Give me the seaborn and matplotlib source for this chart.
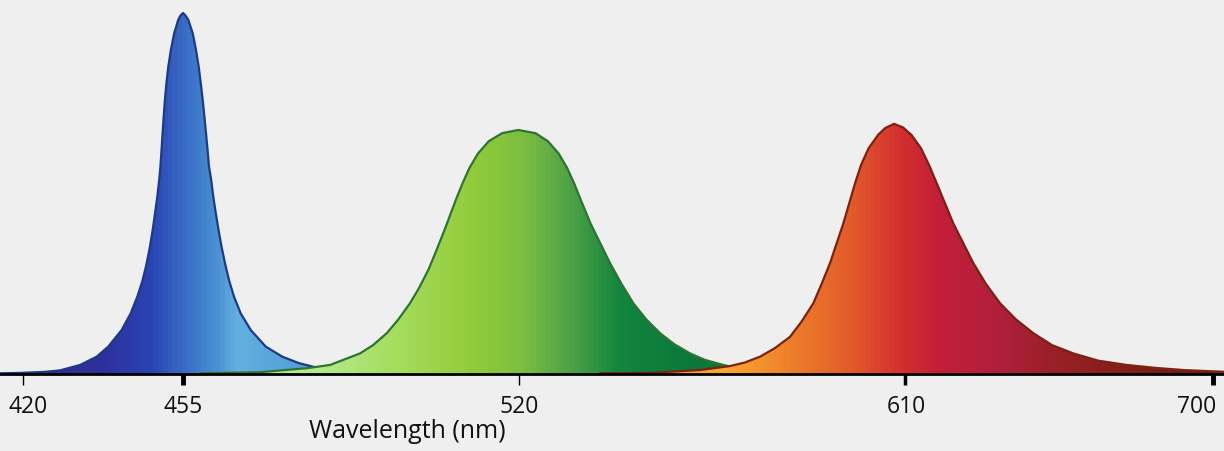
import numpy as np
import matplotlib
matplotlib.use("Agg")
import matplotlib.pyplot as plt
import matplotlib.transforms as mtransforms
from matplotlib.colors import LinearSegmentedColormap
import seaborn as sns

# ---------------- data ----------------
blue_nm = [414.97, 419.34, 424.81, 428.09, 432.47, 436.12, 438.66, 441.59, 443.56,
           445.00, 446.18, 447.06, 447.78, 448.37, 448.88, 449.38, 449.79, 450.06,
           450.30, 450.54, 450.78, 451.04, 451.37, 451.78, 452.35, 453.08, 453.95,
           454.45, 455.00, 455.48, 456.03, 456.88, 457.51, 458.04, 458.44, 458.81,
           459.14, 459.45, 459.76, 460.03, 460.46, 460.86, 461.35, 461.87, 462.45,
           463.12, 463.90, 464.87, 466.16, 468.10, 471.00, 474.21, 477.44, 481.31,
           485.37, 491.18, 496.98]
blue_int = [0.002, 0.003, 0.006, 0.010, 0.025, 0.048, 0.076, 0.122, 0.168,
            0.214, 0.260, 0.307, 0.353, 0.399, 0.445, 0.491, 0.537, 0.574,
            0.620, 0.667, 0.713, 0.759, 0.805, 0.851, 0.898, 0.944, 0.981,
            0.993, 1.000, 0.993, 0.981, 0.944, 0.898, 0.851, 0.805, 0.759,
            0.713, 0.667, 0.620, 0.574, 0.537, 0.491, 0.445, 0.399, 0.353,
            0.307, 0.260, 0.214, 0.168, 0.122, 0.076, 0.048, 0.030, 0.016,
            0.010, 0.006, 0.003]

green_nm = [458.29, 469.90, 478.93, 483.44, 489.24, 491.76, 494.41, 496.59, 498.91,
            500.65, 502.45, 504.04, 505.59, 507.77, 509.07, 510.42, 512.07, 514.16,
            516.71, 519.86, 523.85, 526.72, 529.23, 531.21, 532.85, 534.41, 536.67,
            541.22, 543.78, 546.65, 549.61, 552.88, 556.14, 559.87, 563.37, 567.63,
            572.69, 585.52]
green_int = [0.002, 0.005, 0.016, 0.025, 0.057, 0.080, 0.113, 0.150, 0.196,
             0.238, 0.288, 0.343, 0.399, 0.482, 0.528, 0.571, 0.611, 0.645,
             0.667, 0.676, 0.667, 0.645, 0.611, 0.571, 0.528, 0.482, 0.417,
             0.307, 0.252, 0.196, 0.152, 0.113, 0.083, 0.057, 0.039, 0.025,
             0.011, 0.003]

red_nm = [538.89, 550.54, 562.20, 569.20, 572.69, 576.19, 579.69, 583.19, 585.98,
          588.62, 590.53, 592.51, 595.61, 598.34, 599.74, 601.49, 603.70, 605.34,
          607.43, 609.53, 611.90, 614.68, 617.01, 619.06, 620.67, 624.11, 629.96,
          633.67, 637.76, 642.44, 647.49, 652.95, 659.18, 666.40, 674.78, 683.05,
          691.32, 703.20]
red_int = [0.002, 0.003, 0.011, 0.022, 0.032, 0.048, 0.072, 0.103, 0.147,
           0.196, 0.249, 0.307, 0.417, 0.528, 0.579, 0.625, 0.662, 0.681,
           0.693, 0.683, 0.662, 0.625, 0.579, 0.533, 0.496, 0.417, 0.307,
           0.249, 0.196, 0.151, 0.113, 0.080, 0.057, 0.037, 0.025, 0.017,
           0.011, 0.006]

tick_nm = [420, 455, 520, 610, 700]
tick_labels = ["420", "455", "520", "610", "700"]
x_label = "Wavelength (nm)"

# ---------------- axis scale (piecewise, as in the picture) ----------------
_bp_nm = np.array([400, 420, 455, 520, 610, 700, 720], dtype=float)
_bp_pos = np.array([-68.4, 23, 183, 519, 905, 1213, 1281.4], dtype=float)


def fwd(v):
    return np.interp(v, _bp_nm, _bp_pos)


def inv(p):
    return np.interp(p, _bp_pos, _bp_nm)


# ---------------- styling ----------------
sns.set_theme(style="white")
plt.rcParams["font.family"] = ["Open Sans", "DejaVu Sans"]
BG = "#efefef"

fig = plt.figure(figsize=(12.24, 4.51), dpi=100, facecolor=BG)
ax = fig.add_axes([0, 77 / 451, 1, 374 / 451])
ax.set_facecolor(BG)
ax.set_xscale("function", functions=(fwd, inv))

W = 1224.0
grad_specs = [
    (blue_nm, blue_int, "#1c3a86",
     [(0, "#2b2a8a"), (100 / W, "#2f309c"), (150 / W, "#2a44b4"), (185 / W, "#3a6fc7"),
      (215 / W, "#4a90d2"), (235 / W, "#63b0e0"), (270 / W, "#5aa6dc"), (340 / W, "#4f97d4"),
      (1, "#4f97d4")]),
    (green_nm, green_int, "#2d7433",
     [(0, "#b8ea90"), (320 / W, "#b5e98a"), (400 / W, "#a4dc5c"), (470 / W, "#93cc3a"),
      (520 / W, "#7ebf40"), (570 / W, "#4ea246"), (620 / W, "#13853e"), (680 / W, "#0a7a3a"),
      (750 / W, "#147238"), (1, "#147238")]),
    (red_nm, red_int, "#7b2213",
     [(0, "#f8a838"), (730 / W, "#f9a431"), (800 / W, "#ec7a29"), (860 / W, "#e0552b"),
      (900 / W, "#d3302e"), (940 / W, "#c41e38"), (1000 / W, "#b01f3c"), (1060 / W, "#982027"),
      (1150 / W, "#7d1d16"), (1, "#6a1812")]),
]

for z, (xs, ys, edge, stops) in enumerate(grad_specs):
    cmap = LinearSegmentedColormap.from_list(f"g{z}", stops)
    poly = ax.fill_between(xs, 0, ys, facecolor="none", edgecolor="none", zorder=2 + 2 * z)
    img = cmap(np.linspace(0, 1, 1224))[None, :, :]
    im = ax.imshow(img, extent=[0, 1, 0, 1], transform=ax.transAxes, aspect="auto",
                   interpolation="bilinear", zorder=2 + 2 * z)
    im.set_clip_path(poly.get_paths()[0], ax.transData)
    sns.lineplot(x=xs, y=ys, ax=ax, color=edge, linewidth=1.6, zorder=3 + 2 * z)

ax.set_xlim(414.97, 703.2)
ax.set_ylim(0, 374 / 361)

for s in ["left", "right", "top"]:
    ax.spines[s].set_visible(False)
ax.spines["bottom"].set_color("black")
ax.spines["bottom"].set_linewidth(2)
ax.spines["bottom"].set_zorder(10)
ax.set_yticks([])

ax.set_xticks(tick_nm)
ax.set_xticklabels(tick_labels)
ax.tick_params(axis="x", direction="out", length=8, width=1, color="black",
               labelsize=16.5, labelcolor="#111111", pad=7, bottom=True)
widths = [1.0, 3.5, 1.0, 2.5, 3.5]
shifts = [5, 0, 0, 1, -16]
for t, w, sh in zip(ax.xaxis.get_major_ticks(), widths, shifts):
    t.tick1line.set_markeredgewidth(w)
    lab = t.label1
    lab.set_transform(lab.get_transform() +
                      mtransforms.ScaledTranslation(sh / 100, 0, fig.dpi_scale_trans))

ax.set_xlabel(x_label, fontsize=18, color="#111111", va="center", ha="center")
ax.xaxis.set_label_coords(407 / 1224, (374 - 431) / 374)

fig.savefig("out.png", dpi=100, facecolor=BG)
